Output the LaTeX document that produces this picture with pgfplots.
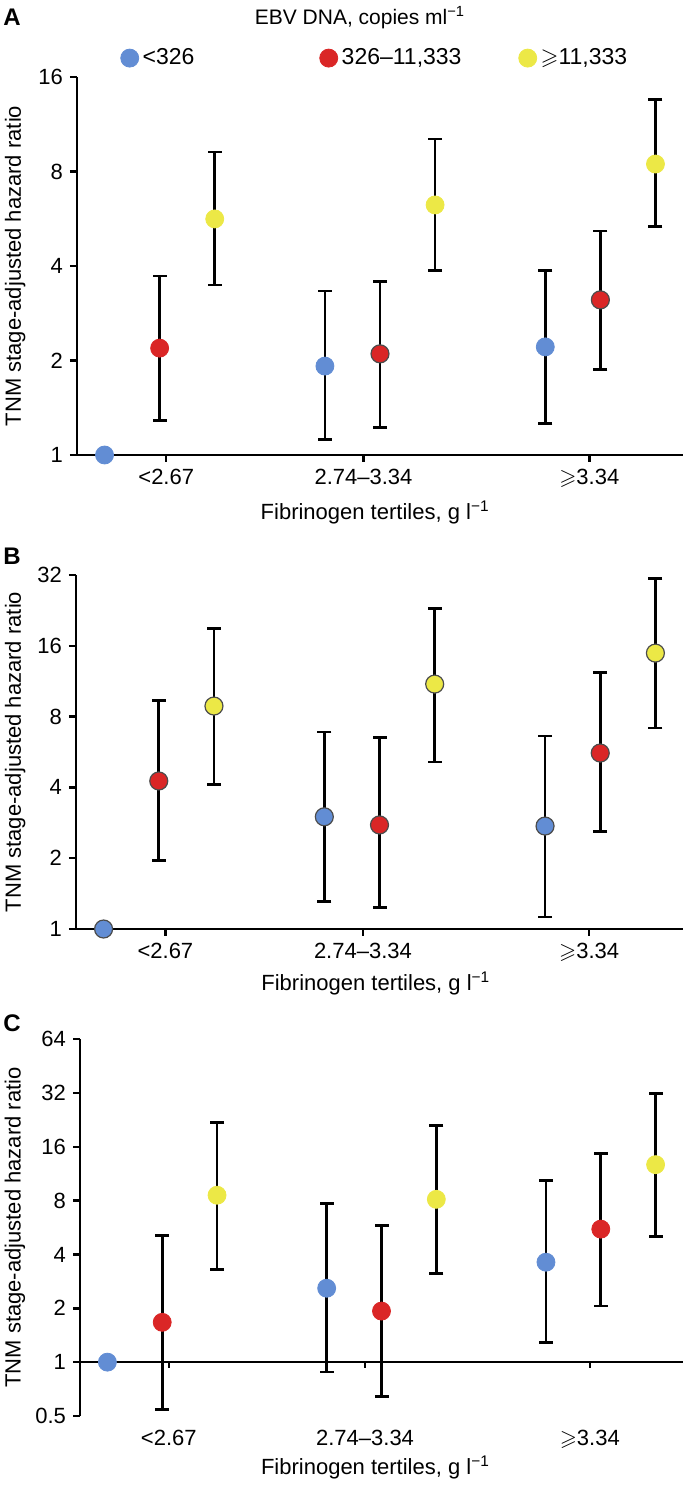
\documentclass[border=0pt]{standalone}
\usepackage{fontspec}
\setmainfont{Liberation Sans}
\usepackage{amssymb}
\usepackage{pgfplots}
\pgfplotsset{compat=1.18}

\definecolor{ebvblue}{RGB}{98,141,212}
\definecolor{ebvred}{RGB}{218,38,38}
\definecolor{ebvyellow}{RGB}{236,232,70}

\begin{document}
\begin{tikzpicture}
\path[use as bounding box] (0,0) rectangle (341.5pt,-748.5pt);

% ---------------- A ----------------
\begin{axis}[
  scale only axis,
  at={(38.5pt,-227.5pt)}, anchor=south west,
  width=303pt, height=189pt,
  ymode=log, log basis y=2,
  xmin=-0.5, xmax=10.5, ymin=1, ymax=16,
  axis lines*=left,
  axis line style={line width=1.2pt},
  tick style={line width=1.2pt, black},
  tick align=outside, major tick length=3.5pt,
  xtick={1.12,4.7,8.8},
  xticklabels={{<2.67},{2.74–3.34},{$\geqslant$3.34}},
  ytick={1,2,4,8,16}, yticklabels={1,2,4,8,16},
  tick label style={font=\fontsize{11}{12}\selectfont},
  label style={font=\fontsize{11}{12}\selectfont},
  ylabel={TNM stage-adjusted hazard ratio},
  xlabel={Fibrinogen tertiles, g l\textsuperscript{−1}},
  ylabel style={at={(axis description cs:-0.102,0.5)}, anchor=center},
  xlabel style={at={(axis description cs:0.492,-0.151)}, anchor=center},
  clip=false,
  legend columns=3,
  legend cell align=left,
  legend style={draw=none, fill=none, inner sep=0pt,
    at={(axis description cs:0.0715,1.050)}, anchor=west,
    font=\fontsize{11.5}{12}\selectfont},
]
\addplot[black, line width=1.4pt, mark=-, mark size=3.5pt,
  unbounded coords=jump, forget plot] table {
x y
1 1.29
1 3.72
nan nan
2 3.48
2 9.23
nan nan
4 1.12
4 3.33
nan nan
5 1.22
5 3.56
nan nan
6 3.88
6 10.15
nan nan
8 1.26
8 3.86
nan nan
9 1.87
9 5.17
nan nan
10 5.33
10 13.6
};
\addplot[only marks, mark=*, mark size=4.5pt, color=ebvblue]
  coordinates {(0,1) (4,1.92) (8,2.21)};
\addlegendentry{\makebox[86.5pt][l]{<326}}
\addplot[only marks, mark=*, mark size=4.5pt, color=ebvred]
  coordinates {(1,2.19)};
\addlegendentry{\makebox[86.5pt][l]{326–11,333}}
\addplot[only marks, mark=*, mark size=4.5pt, color=ebvyellow]
  coordinates {(2,5.65) (6,6.26) (10,8.45)};
\addlegendentry{$\geqslant$11,333}
\addplot[only marks, mark=*, mark size=4.5pt, forget plot,
  mark options={fill=ebvred, draw=black!70, line width=0.6pt}]
  coordinates {(5,2.10) (9,3.12)};
\end{axis}

% ---------------- B ----------------
\begin{axis}[
  scale only axis,
  at={(38pt,-464.5pt)}, anchor=south west,
  width=303.5pt, height=177pt,
  ymode=log, log basis y=2,
  xmin=-0.5, xmax=10.5, ymin=1, ymax=32,
  axis lines*=left,
  axis line style={line width=1.2pt},
  tick style={line width=1.2pt, black},
  tick align=outside, major tick length=3.5pt,
  xtick={1.12,4.7,8.8},
  xticklabels={{<2.67},{2.74–3.34},{$\geqslant$3.34}},
  ytick={1,2,4,8,16,32}, yticklabels={1,2,4,8,16,32},
  tick label style={font=\fontsize{11}{12}\selectfont},
  label style={font=\fontsize{11}{12}\selectfont},
  ylabel={TNM stage-adjusted hazard ratio},
  xlabel={Fibrinogen tertiles, g l\textsuperscript{−1}},
  ylabel style={at={(axis description cs:-0.100,0.5)}, anchor=center},
  xlabel style={at={(axis description cs:0.494,-0.155)}, anchor=center},
  clip=false,
]
\addplot[black, line width=1.4pt, mark=-, mark size=3.5pt,
  unbounded coords=jump, forget plot] table {
x y
1 1.95
1 9.4
nan nan
2 4.13
2 19.0
nan nan
4 1.31
4 6.88
nan nan
5 1.23
5 6.5
nan nan
6 5.13
6 23.1
nan nan
8 1.125
8 6.62
nan nan
9 2.59
9 12.3
nan nan
10 7.16
10 31.0
};
\addplot[only marks, mark=*, mark size=4.5pt,
  mark options={fill=ebvblue, draw=black!70, line width=0.6pt}]
  coordinates {(0,1) (4,3.0) (8,2.74)};
\addplot[only marks, mark=*, mark size=4.5pt,
  mark options={fill=ebvred, draw=black!70, line width=0.6pt}]
  coordinates {(1,4.26) (5,2.77) (9,5.6)};
\addplot[only marks, mark=*, mark size=4.5pt,
  mark options={fill=ebvyellow, draw=black!70, line width=0.6pt}]
  coordinates {(2,8.87) (6,11.0) (10,14.9)};
\end{axis}

% ---------------- C ----------------
\begin{axis}[
  scale only axis,
  at={(40pt,-708pt)}, anchor=south west,
  width=301.5pt, height=188.5pt,
  ymode=log, log basis y=2,
  xmin=-0.5, xmax=10.5, ymin=0.5, ymax=64,
  axis lines*=left,
  axis line style={line width=1.2pt},
  x axis line style={draw=none},
  tick style={line width=1.2pt, black},
  xtick style={draw=none},
  tick align=outside, major tick length=3.5pt,
  xtick={1.12,4.7,8.8},
  xticklabels={{<2.67},{2.74–3.34},{$\geqslant$3.34}},
  ytick={0.5,1,2,4,8,16,32,64}, yticklabels={0.5,1,2,4,8,16,32,64},
  tick label style={font=\fontsize{11}{12}\selectfont},
  label style={font=\fontsize{11}{12}\selectfont},
  ylabel={TNM stage-adjusted hazard ratio},
  xlabel={Fibrinogen tertiles, g l\textsuperscript{−1}},
  ylabel style={at={(axis description cs:-0.108,0.5)}, anchor=center},
  xlabel style={at={(axis description cs:0.490,-0.136)}, anchor=center},
  clip=false,
]
\draw[line width=1.2pt] (axis cs:-0.5,1) -- (axis cs:10.5,1);
\draw[line width=1.2pt] (axis cs:1.12,1) -- ([yshift=-3pt]axis cs:1.12,1);
\draw[line width=1.2pt] (axis cs:4.7,1) -- ([yshift=-3pt]axis cs:4.7,1);
\draw[line width=1.2pt] (axis cs:8.8,1) -- ([yshift=-3pt]axis cs:8.8,1);
\addplot[black, line width=1.4pt, mark=-, mark size=3.5pt,
  unbounded coords=jump, forget plot] table {
x y
1 0.546
1 5.12
nan nan
2 3.31
2 21.9
nan nan
4 0.88
4 7.73
nan nan
5 0.646
5 5.82
nan nan
6 3.14
6 21.1
nan nan
8 1.29
8 10.4
nan nan
9 2.06
9 14.7
nan nan
10 5.06
10 31.8
};
\addplot[only marks, mark=*, mark size=4.5pt, color=ebvblue]
  coordinates {(0,1) (4,2.59) (8,3.62)};
\addplot[only marks, mark=*, mark size=4.5pt, color=ebvred]
  coordinates {(1,1.67) (5,1.93) (9,5.54)};
\addplot[only marks, mark=*, mark size=4.5pt, color=ebvyellow]
  coordinates {(2,8.57) (6,8.13) (10,12.7)};
\end{axis}

\node[font=\fontsize{10.5}{12}\selectfont] at (180pt,-9pt)
  {EBV DNA, copies ml\textsuperscript{−1}};
\node[font=\bfseries\fontsize{12}{12}\selectfont] at (6pt,-8.5pt) {A};
\node[font=\bfseries\fontsize{12}{12}\selectfont] at (6pt,-278pt) {B};
\node[font=\bfseries\fontsize{12}{12}\selectfont] at (6pt,-511.5pt) {C};
\end{tikzpicture}
\end{document}
